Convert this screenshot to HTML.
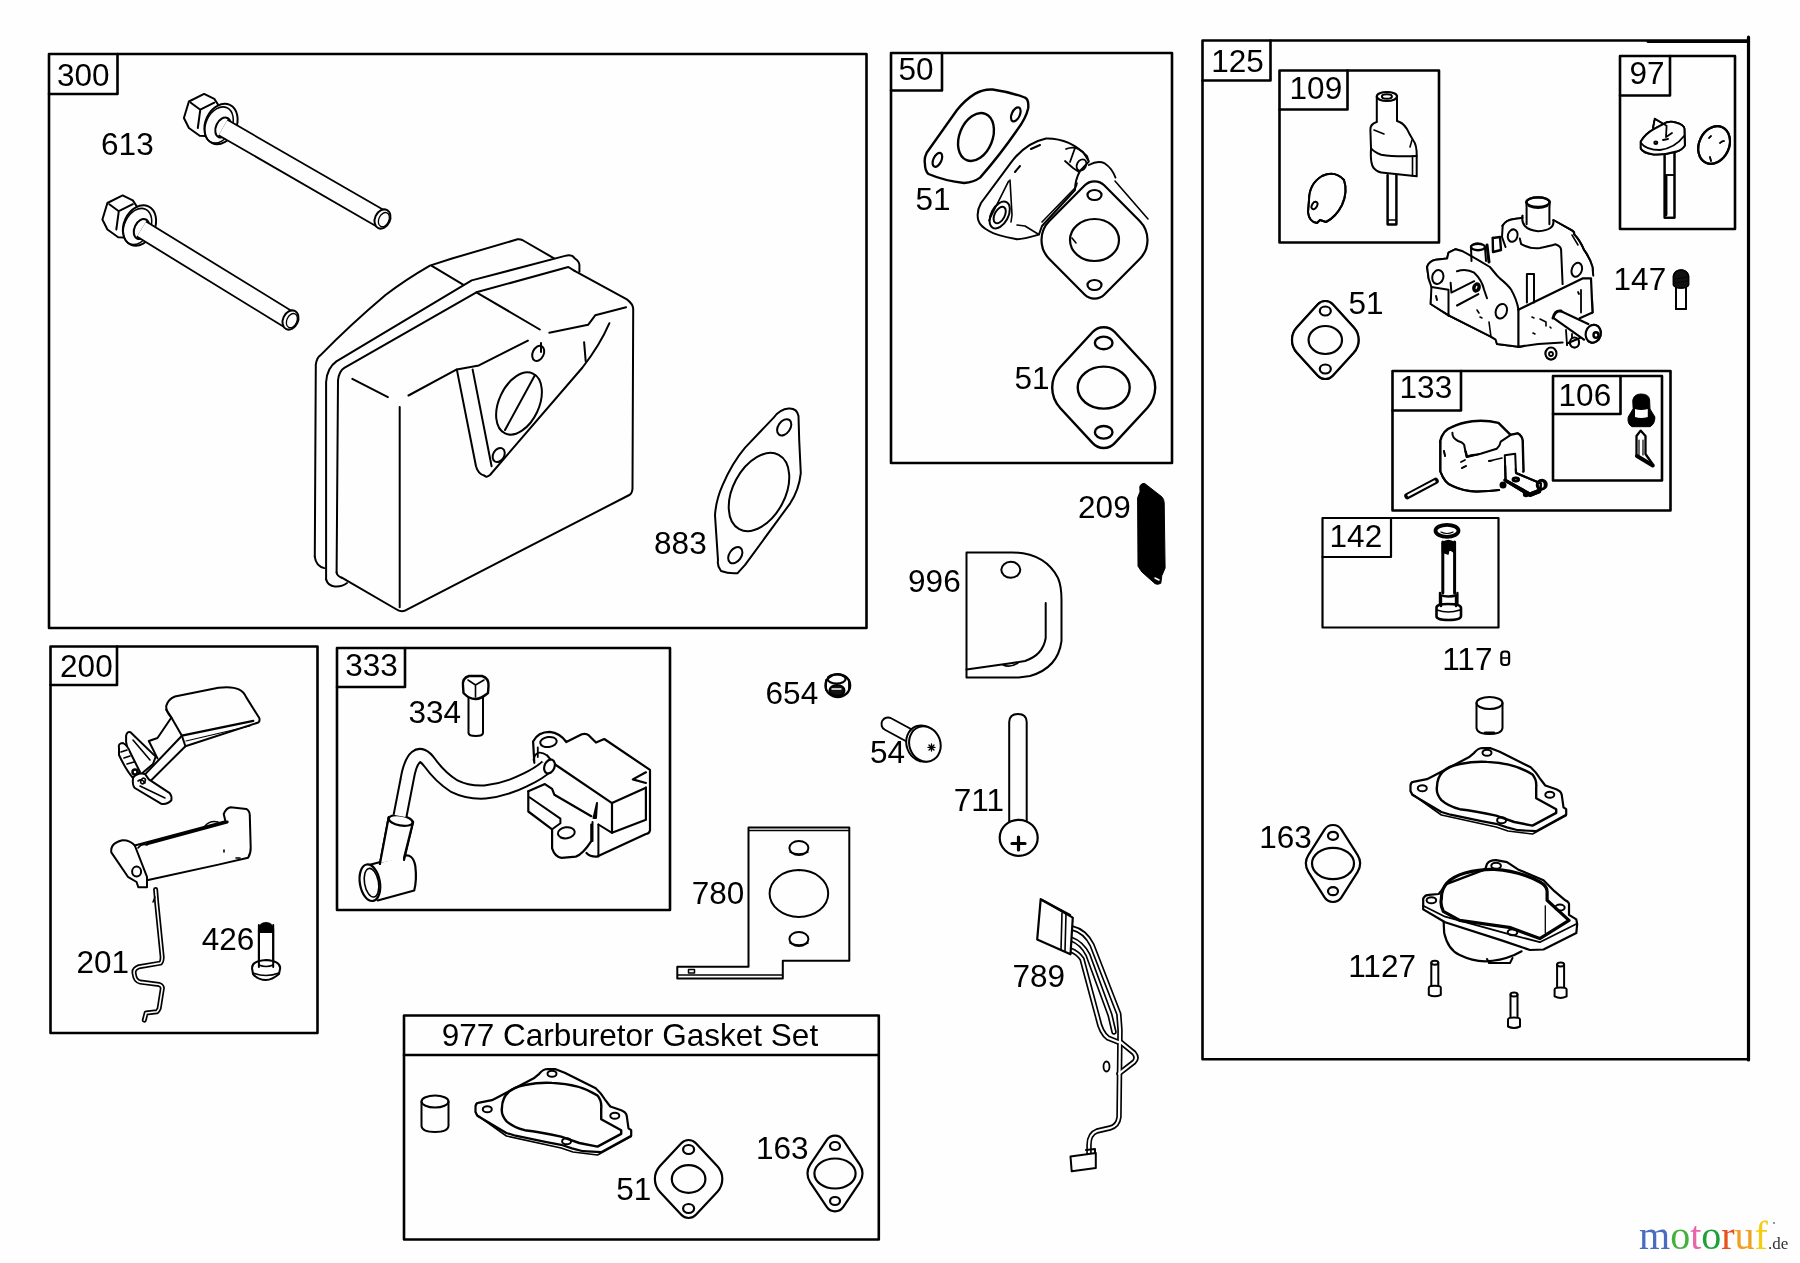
<!DOCTYPE html>
<html><head><meta charset="utf-8"><style>
html,body{margin:0;padding:0;background:#fdfefd;}
body{width:1800px;height:1263px;overflow:hidden;position:relative;}
svg{position:absolute;left:0;top:0;will-change:transform;}
text{font-family:"Liberation Sans",sans-serif;font-size:31.5px;fill:#000;}
.logo{font-family:"Liberation Serif",serif;}
</style></head><body>
<svg width="1800" height="1263" viewBox="0 0 1800 1263" stroke-linejoin="round" stroke-linecap="round">
<rect x="49" y="54" width="817.5" height="574" fill="none" stroke="#000" stroke-width="2.6"/>
<path d="M49 94H117.5V54" fill="none" stroke="#000" stroke-width="2.6"/>
<rect x="891" y="53" width="281" height="410" fill="none" stroke="#000" stroke-width="2.6"/>
<path d="M891 90.5H942V53" fill="none" stroke="#000" stroke-width="2.6"/>
<rect x="1202.5" y="40.5" width="546.0" height="1018.8" fill="none" stroke="#000" stroke-width="2.6"/>
<path d="M1202.5 80.5H1270.5V40.5" fill="none" stroke="#000" stroke-width="2.6"/>
<rect x="1279.5" y="70.5" width="159.5" height="172.0" fill="none" stroke="#000" stroke-width="2.6"/>
<path d="M1279.5 109.5H1347.5V70.5" fill="none" stroke="#000" stroke-width="2.6"/>
<rect x="1620" y="56" width="115" height="173" fill="none" stroke="#000" stroke-width="2.6"/>
<path d="M1620 95.5H1670V56" fill="none" stroke="#000" stroke-width="2.6"/>
<rect x="1392.5" y="371" width="278.0" height="139.5" fill="none" stroke="#000" stroke-width="2.6"/>
<path d="M1392.5 410.5H1461V371" fill="none" stroke="#000" stroke-width="2.6"/>
<rect x="1553" y="376" width="109" height="104.5" fill="none" stroke="#000" stroke-width="2.6"/>
<path d="M1553 414H1620.5V376" fill="none" stroke="#000" stroke-width="2.6"/>
<rect x="1322.5" y="518" width="176.0" height="109.5" fill="none" stroke="#000" stroke-width="2.2"/>
<path d="M1322.5 557H1391V518" fill="none" stroke="#000" stroke-width="2.2"/>
<rect x="50.5" y="646.5" width="267.0" height="386.5" fill="none" stroke="#000" stroke-width="2.6"/>
<path d="M50.5 685H117V646.5" fill="none" stroke="#000" stroke-width="2.6"/>
<rect x="337" y="648" width="333" height="262" fill="none" stroke="#000" stroke-width="2.6"/>
<path d="M337 687H405V648" fill="none" stroke="#000" stroke-width="2.6"/>
<path d="M1648 41.5H1748.5" stroke="#000" stroke-width="3"/>
<path d="M1748.5 37V1060" stroke="#000" stroke-width="3.2"/>
<rect x="404" y="1015.5" width="474.8" height="224" fill="none" stroke="#000" stroke-width="2.6"/>
<path d="M404 1055H878.8" stroke="#000" stroke-width="2.6"/>
<text x="56.9" y="85.5">300</text>
<text x="101.1" y="155.0">613</text>
<text x="654.1" y="553.6">883</text>
<text x="898.4" y="80.0">50</text>
<text x="915.4" y="210.0">51</text>
<text x="1014.4" y="389.0">51</text>
<text x="1211.2" y="71.7">125</text>
<text x="1289.6" y="99.2">109</text>
<text x="1629.4" y="84.4">97</text>
<text x="1613.6" y="290.0">147</text>
<text x="1348.4" y="313.6">51</text>
<text x="1399.6" y="397.8">133</text>
<text x="1558.6" y="405.6">106</text>
<text x="1329.6" y="546.7">142</text>
<text x="1442.2" y="670.0">117</text>
<text x="1259.3" y="847.8">163</text>
<text x="1348.2" y="976.7">1127</text>
<text x="1078.1" y="517.5">209</text>
<text x="908.1" y="592.0">996</text>
<text x="765.6" y="704.4">654</text>
<text x="869.9" y="763.0">54</text>
<text x="953.7" y="810.5">711</text>
<text x="691.7" y="903.7">780</text>
<text x="1012.5" y="987.2">789</text>
<text x="60.1" y="677.0">200</text>
<text x="76.4" y="972.5">201</text>
<text x="201.8" y="949.8">426</text>
<text x="345.2" y="675.5">333</text>
<text x="408.4" y="723.1">334</text>
<text x="616.2" y="1200.3">51</text>
<text x="756.0" y="1159.0">163</text>
<text x="441.7" y="1046.3">977 Carburetor Gasket Set</text>
<g class="logo" style="font-family:'Liberation Serif',serif">
<text x="1639" y="1249" style="font-family:'Liberation Serif',serif;font-size:40px"><tspan fill="#4a6cc0">m</tspan><tspan fill="#45b03c">o</tspan><tspan fill="#e866a8">t</tspan><tspan fill="#1f9f3c">o</tspan><tspan fill="#e8501c">r</tspan><tspan fill="#f0a020">u</tspan><tspan fill="#f5cc10">f</tspan></text>
<text x="1768" y="1249" style="font-family:'Liberation Serif',serif;font-size:17px;fill:#333">.de</text>
<circle cx="1774" cy="1223" r="0.9" fill="#666"/>
</g>
<path d="M188.9 101.5 L204.1 93.9 L214.3 98.9 L219.0 106.0 L215.0 125.0 L205.0 136.0 L199.7 135.7 L188.9 128.0 L183.9 118.0Z" fill="#fdfefd" stroke="#000" stroke-width="2"/>
<path d="M190.8 102.7L200.3 109.7L214.3 102.7M200.3 109.7L197.8 128.0" fill="none" stroke="#000" stroke-width="2"/>
<ellipse cx="221.0" cy="124.0" rx="15.5" ry="21" transform="rotate(25 221.0 124.0)" fill="#fdfefd" stroke="#000" stroke-width="2"/>
<ellipse cx="219.0" cy="125.0" rx="13" ry="19" transform="rotate(25 219.0 125.0)" fill="none" stroke="#000" stroke-width="1.5"/>
<ellipse cx="223.0" cy="127.5" rx="7" ry="10.5" transform="rotate(25 223.0 127.5)" fill="#fdfefd" stroke="#000" stroke-width="2"/>
<path d="M223 127.5L381.5 219" stroke="#000" stroke-width="19.5" stroke-linecap="butt"/>
<path d="M223 127.5L381.5 219" stroke="#fdfefd" stroke-width="15.9" stroke-linecap="butt"/>
<ellipse cx="382.5" cy="219" rx="7.5" ry="10" transform="rotate(25 382.5 219)" fill="#fdfefd" stroke="#000" stroke-width="2"/>
<ellipse cx="384.0" cy="219" rx="5.0" ry="7.5" transform="rotate(25 382.5 219)" fill="none" stroke="#000" stroke-width="1.3"/>
<path d="M107.4 203.0 L122.6 195.4 L132.8 200.4 L137.5 207.5 L133.5 226.5 L123.5 237.5 L118.2 237.2 L107.4 229.5 L102.4 219.5Z" fill="#fdfefd" stroke="#000" stroke-width="2"/>
<path d="M109.3 204.2L118.8 211.2L132.8 204.2M118.8 211.2L116.3 229.5" fill="none" stroke="#000" stroke-width="2"/>
<ellipse cx="139.5" cy="225.5" rx="15.5" ry="21" transform="rotate(25 139.5 225.5)" fill="#fdfefd" stroke="#000" stroke-width="2"/>
<ellipse cx="137.5" cy="226.5" rx="13" ry="19" transform="rotate(25 137.5 226.5)" fill="none" stroke="#000" stroke-width="1.5"/>
<ellipse cx="141.5" cy="229.0" rx="7" ry="10.5" transform="rotate(25 141.5 229.0)" fill="#fdfefd" stroke="#000" stroke-width="2"/>
<path d="M141.5 229L289.5 320" stroke="#000" stroke-width="19.5" stroke-linecap="butt"/>
<path d="M141.5 229L289.5 320" stroke="#fdfefd" stroke-width="15.9" stroke-linecap="butt"/>
<ellipse cx="290.5" cy="320" rx="7.5" ry="10" transform="rotate(25 290.5 320)" fill="#fdfefd" stroke="#000" stroke-width="2"/>
<ellipse cx="292.0" cy="320" rx="5.0" ry="7.5" transform="rotate(25 290.5 320)" fill="none" stroke="#000" stroke-width="1.3"/>
<path d="M315 430L315.8 364.6Q317 357 320.6 355.1L385.5 295L429.9 265.6L452 258.5L517.6 239.3Q520 239 522.3 240L554 258.3L574.6 258.3L579.4 271.7L626.9 299.4Q633 304 633.2 308.9L632.5 488.7Q632 494 629.3 495L404.5 610.8Q400 612 395.8 609L347 583L334.8 586.4Q326 584 326.1 579.4L324.4 568.1Q315 562 314.8 556.8Z" fill="#fdfefd" stroke="none"/>
<path d="M314.8 556.8L315.8 364.6Q317 357 320.6 355.1Q350 325 385.5 295Q405 280 429.9 265.6L452 258.5L517.6 239.3Q520 239 522.3 240L554 258.3" fill="none" stroke="#000" stroke-width="2"/>
<path d="M314.8 556.8Q316 566 324.4 568.1" fill="none" stroke="#000" stroke-width="2"/>
<path d="M431.4 265.6L463.1 284.6" fill="none" stroke="#000" stroke-width="2"/>
<path d="M326.1 579.4L326.1 382Q327 368 336.4 361.4L471.7 280.4L565.1 255.9Q572 254 574.6 258.3Q580 262 579.4 266.2L579.4 271.7" fill="none" stroke="#000" stroke-width="2"/>
<path d="M326.1 579.4Q328 586 334.8 586.4Q342 587 347 583" fill="none" stroke="#000" stroke-width="2"/>
<path d="M336.6 572.5L338 380.4Q339 371 344.3 367.8L476.4 292.3L568.3 267L574.6 270.9" fill="none" stroke="#000" stroke-width="2"/>
<path d="M336.6 572.5Q337 576 341.8 577.7" fill="none" stroke="#000" stroke-width="2"/>
<path d="M574.6 270.9L626.9 299.4Q633 304 633.2 308.9L632.5 488.7Q632 494 629.3 495L404.5 610.8Q400 612 395.8 609L341.8 577.7" fill="none" stroke="#000" stroke-width="2"/>
<path d="M476.4 292.3L539.8 329.5" fill="none" stroke="#000" stroke-width="2"/>
<path d="M549.3 332.7L588.1 324.8L595.2 315.3L626.1 307.3" fill="none" stroke="#000" stroke-width="2"/>
<path d="M609.4 323.2Q600 345 582.5 367.5L490 475Q486 478 484.7 475.8" fill="none" stroke="#000" stroke-width="2"/>
<path d="M584.1 342.2L585.7 361.2" fill="none" stroke="#000" stroke-width="2"/>
<path d="M352.3 378.9L387.9 397.1" fill="none" stroke="#000" stroke-width="2"/>
<path d="M399.7 407L399.7 607.3" fill="none" stroke="#000" stroke-width="2"/>
<path d="M408.5 395.5L456.8 369.4L478.9 365.4L527.9 340.6" fill="none" stroke="#000" stroke-width="2"/>
<path d="M456.8 369.4L476 466.2Q478 474 484.7 475.8" fill="none" stroke="#000" stroke-width="2"/>
<path d="M472.6 369.4L491.6 466.2" fill="none" stroke="#000" stroke-width="2"/>
<ellipse cx="519" cy="403.5" rx="20" ry="33" transform="rotate(25 519 403.5)" fill="none" stroke="#000" stroke-width="2"/>
<path d="M505 430L535 375" fill="none" stroke="#000" stroke-width="2"/>
<ellipse cx="538.2" cy="353.3" rx="5.5" ry="8" transform="rotate(25 538.2 353.3)" fill="none" stroke="#000" stroke-width="2"/>
<path d="M541 343L541 352" fill="none" stroke="#000" stroke-width="2"/>
<ellipse cx="498.7" cy="455" rx="5.5" ry="7.5" transform="rotate(30 498.7 455)" fill="none" stroke="#000" stroke-width="2"/>
<path d="M773.7 417.6Q780 409 788.7 408.5Q797 408 798.5 416L799.2 440L800.8 473.2Q799 490 790.2 503.3L745.1 564.9L737.6 573.2Q729 574 721 571Q717 566 718 560.4L715 515.3Q716 500 722.6 485.2Q732 463 745.1 447.6Z" fill="none" stroke="#000" stroke-width="2" stroke-width="2.3"/>
<ellipse cx="759" cy="492" rx="26" ry="42" transform="rotate(28 759 492)" fill="none" stroke="#000" stroke-width="2" stroke-width="2.3"/>
<ellipse cx="784.2" cy="427.3" rx="6" ry="9" transform="rotate(35 784.2 427.3)" fill="none" stroke="#000" stroke-width="2"/>
<ellipse cx="735.3" cy="555.2" rx="6" ry="9" transform="rotate(35 735.3 555.2)" fill="none" stroke="#000" stroke-width="2"/><path d="M924.9 163.4Q925 171 928.5 174Q945 181 964.1 183Q974 182 980.1 177.6Q1000 155 1017.5 129.5Q1026 118 1028.2 108.2Q1029 99 1024.7 97.5Q1010 92 992.6 89.5Q983 89 974.8 93.9Q965 100 957 110L926.7 152.7Q924 158 924.9 163.4Z" fill="#fdfefd" stroke="#000" stroke-width="2.4"/>
<ellipse cx="976" cy="137" rx="16.5" ry="25" transform="rotate(22 976 137)" fill="none" stroke="#000" stroke-width="2.4"/>
<ellipse cx="1015.8" cy="114.4" rx="4" ry="7.5" transform="rotate(25 1015.8 114.4)" fill="none" stroke="#000" stroke-width="2.2"/>
<ellipse cx="937.4" cy="159.8" rx="4" ry="7.5" transform="rotate(25 937.4 159.8)" fill="none" stroke="#000" stroke-width="2.2"/>
<path d="M978.4 220.4Q976 212 981 203L1010.4 163.4Q1025 143 1046 138.4Q1070 138 1087 156.2L1088.8 161.6L1080 171Q1075 180 1075 190L1042 226L1038.9 234.6Q1020 240 1015.8 239Q995 235 989 231Q980 226 978.4 220.4Z" fill="#fdfefd" stroke="#000" stroke-width="2"/>
<path d="M1031 149L1040 145M1015 172L1020 166" fill="none" stroke="#000" stroke-width="2"/>
<ellipse cx="999.7" cy="215" rx="8.5" ry="14.5" transform="rotate(28 999.7 215)" fill="none" stroke="#000" stroke-width="2"/>
<ellipse cx="999.7" cy="215" rx="5" ry="9" transform="rotate(28 999.7 215)" fill="none" stroke="#000" stroke-width="2"/>
<path d="M1008.6 181.2L989 220.4M1010 180L1012 215L1011 222" fill="none" stroke="#000" stroke-width="1.6"/>
<path d="M1017 225L1025 226L1038 234" fill="none" stroke="#000" stroke-width="1.6"/>
<path d="M1066 149Q1075 145 1083 152L1088 160M1065 161L1073 168L1079 172M1075 148L1070 162" fill="none" stroke="#000" stroke-width="1.8"/>
<ellipse cx="1081.5" cy="165" rx="4.5" ry="6" transform="rotate(30 1081.5 165)" fill="none" stroke="#000" stroke-width="1.8"/>
<path d="M1088.8 165Q1098 160 1104.8 163.4Q1112 168 1115.5 177.6" fill="none" stroke="#000" stroke-width="1.8"/>
<path d="M1104.44 185.44L1139.68 220.99A27 27 0 0 1 1139.68 259.01L1104.44 294.56A14 14 0 0 1 1084.56 294.56L1049.32 259.01A27 27 0 0 1 1049.32 220.99L1084.56 185.44A14 14 0 0 1 1104.44 185.44Z" fill="#fdfefd" stroke="#000" stroke-width="2.2"/>
<ellipse cx="1094.5" cy="240" rx="24.5" ry="21" fill="none" stroke="#000" stroke-width="2.2"/>
<ellipse cx="1094.5" cy="195" rx="7" ry="5" fill="none" stroke="#000" stroke-width="2.2"/>
<ellipse cx="1094.5" cy="285" rx="7" ry="5" fill="none" stroke="#000" stroke-width="2.2"/>
<path d="M1077 183Q1076 188 1074 189L1042 222M1115 181L1148 219" fill="none" stroke="#000" stroke-width="1.6"/>
<path d="M1072 238L1076 243" fill="none" stroke="#000" stroke-width="1.6"/>
<path d="M1114.72 332.02L1147.24 367.25A30 30 0 0 1 1147.24 407.95L1114.72 443.18A15 15 0 0 1 1092.68 443.18L1060.16 407.95A30 30 0 0 1 1060.16 367.25L1092.68 332.02A15 15 0 0 1 1114.72 332.02Z" fill="#fdfefd" stroke="#000" stroke-width="2.4"/>
<ellipse cx="1103.7" cy="387.6" rx="26" ry="21" fill="none" stroke="#000" stroke-width="2.4"/>
<ellipse cx="1103.7" cy="342.90000000000003" rx="8.8" ry="6.3" fill="none" stroke="#000" stroke-width="2.4"/>
<ellipse cx="1103.7" cy="432.3" rx="8.8" ry="6.3" fill="none" stroke="#000" stroke-width="2.4"/><path d="M1376.8 96.5L1376.8 124.3M1397 96.5L1397 123" fill="none" stroke="#000" stroke-width="2"/>
<ellipse cx="1386.9" cy="96.5" rx="10.1" ry="4.5" fill="#fdfefd" stroke="#000" stroke-width="2.2"/>
<ellipse cx="1386.9" cy="96.5" rx="5" ry="2.3" fill="none" stroke="#000" stroke-width="2"/>
<path d="M1376.8 122Q1370 124 1370.4 130L1371 148.4Q1370 165 1374.3 168.7Q1377 172 1381.2 172.5L1416.7 176.3L1416.7 156Q1417 145 1413 140L1409.1 133.2Q1405 124 1399 121.8L1397 121" fill="#fdfefd" stroke="#000" stroke-width="2"/>
<path d="M1371.1 148.4Q1374 152 1381.2 154.8Q1395 157 1416.7 156" fill="none" stroke="#000" stroke-width="2"/>
<path d="M1374 130L1384 134M1412 140L1410 147M1412.5 156L1412.5 176" fill="none" stroke="#000" stroke-width="1.6"/>
<path d="M1387.6 175L1387.6 224.4L1396.4 224.4L1396.4 175" fill="none" stroke="#000" stroke-width="2"/>
<path d="M1388 220L1396 220" fill="none" stroke="#000" stroke-width="1.2"/>
<path d="M1309 200Q1309 184 1322 176Q1335 170 1344 180Q1348 192 1342 205Q1336 217 1326 222L1320 220L1317 223Q1309 222 1308 212Z" fill="none" stroke="#000" stroke-width="2"/>
<ellipse cx="1314.5" cy="205.5" rx="2.5" ry="4" transform="rotate(30 1314.5 205.5)" fill="none" stroke="#000" stroke-width="1.6"/>
<path d="M1664.6 151.5L1664.6 217.8L1674.5 217.8L1674.5 151.5" fill="none" stroke="#000" stroke-width="2"/>
<path d="M1665.5 175L1674 175" fill="none" stroke="#000" stroke-width="1.5"/>
<path d="M1666 176L1666 215" fill="none" stroke="#000" stroke-width="2.5"/>
<path d="M1640.8 141.6Q1645 134 1654.7 128.7L1666.6 122.3Q1672 121 1676.5 122.8Q1684 125 1684.4 128.7L1684.9 145.5Q1682 150 1676.5 151.5Q1665 155 1653.7 154.5Q1643 153 1640.8 148.5Z" fill="#fdfefd" stroke="#000" stroke-width="2"/>
<path d="M1641 143Q1646 150 1660 150Q1675 148 1684 136" fill="none" stroke="#000" stroke-width="1.8"/>
<path d="M1654.7 118.8L1653 128M1654.7 118.8L1666.6 125.7L1666 137L1672 133M1663 140L1668 139" fill="none" stroke="#000" stroke-width="1.8"/>
<ellipse cx="1655.8" cy="142.8" rx="1.5" ry="1.2" fill="none" stroke="#000" stroke-width="2"/>
<ellipse cx="1714.1" cy="145" rx="15" ry="19.5" transform="rotate(25 1714.1 145)" fill="none" stroke="#000" stroke-width="2.2"/>
<path d="M1709 138L1711 136M1720 143Q1722 141 1724 141M1710 157L1711 161" fill="none" stroke="#000" stroke-width="1.6"/>
<path d="M1427.1 267Q1430 260 1435.7 259.8L1447.1 258.4L1448.5 252.7L1455.6 249.2L1470 250L1477 243L1492 238L1502.7 225.6Q1510 218 1522.6 217.1L1526.2 202L1549.7 202L1553.3 220.6L1574 234.2L1592.5 267L1593.2 275.5L1592.5 312.6L1588 324L1601 333L1593 342L1578 340L1565 343L1556 358L1546 350L1518.4 346.8L1497 344L1491.3 336.8L1430.7 304Z" fill="#fdfefd" stroke="none"/>
<path d="M1526.6 202.1L1526.6 224.2M1549.4 202.1L1549.4 224.2" fill="none" stroke="#000" stroke-width="2"/>
<ellipse cx="1538" cy="202.1" rx="11.6" ry="4.8" fill="none" stroke="#000" stroke-width="2.2"/>
<path d="M1529 206Q1538 210 1547 206" fill="none" stroke="#000" stroke-width="2.2"/>
<path d="M1522.6 215.7Q1520 229 1538 231.3Q1555 230 1553.3 220.6" fill="none" stroke="#000" stroke-width="2"/>
<path d="M1502.7 225.6Q1506 220 1512.7 219.2L1522.6 217.8M1553.3 220L1571.1 229.9Q1575 232 1574 234.2Q1580 240 1584 249.9Q1590 258 1592.5 267L1593.2 275.5" fill="none" stroke="#000" stroke-width="2"/>
<path d="M1502.7 225.6L1502 237L1505.5 247" fill="none" stroke="#000" stroke-width="2"/>
<ellipse cx="1512.7" cy="235.6" rx="4.8" ry="6.3" transform="rotate(15 1512.7 235.6)" fill="none" stroke="#000" stroke-width="2"/>
<path d="M1519.8 238.5L1521.2 244.2Q1530 249 1540 248Q1550 246 1555.4 244.2Q1561 246 1561.1 249.9L1562.6 284.1" fill="none" stroke="#000" stroke-width="2"/>
<path d="M1526.9 302.6L1526.9 274.1L1534 274.1L1534 302.6" fill="none" stroke="#000" stroke-width="2"/>
<ellipse cx="1576.8" cy="269.8" rx="5" ry="7.2" transform="rotate(20 1576.8 269.8)" fill="none" stroke="#000" stroke-width="2"/>
<path d="M1572 235L1578 245" fill="none" stroke="#000" stroke-width="1.5"/>
<ellipse cx="1478" cy="247" rx="7" ry="3.2" fill="#fdfefd" stroke="#000" stroke-width="2.4"/>
<path d="M1471 247L1471.5 261M1485 247L1486 261" fill="none" stroke="#000" stroke-width="2"/>
<path d="M1492.7 238L1500 237L1501 250L1493 252Z" fill="none" stroke="#000" stroke-width="2.4"/>
<path d="M1487 245L1489 262" stroke="#000" stroke-width="3"/>
<path d="M1518.4 309.7L1582.5 278.4L1591 278.4L1592.5 312.6L1579.7 318.3" fill="none" stroke="#000" stroke-width="2.2"/>
<path d="M1518.4 309.7L1518.4 346.8L1538.3 344L1562.6 342.5" fill="none" stroke="#000" stroke-width="2.2"/>
<path d="M1581 289.8L1581 312.6M1578 292L1579 294" fill="none" stroke="#000" stroke-width="1.8"/>
<path d="M1532 317L1534 318M1540 319L1546 322L1546 326M1550 327L1551 328M1533 333L1535 334" fill="none" stroke="#000" stroke-width="1.6"/>
<path d="M1561.1 311.2L1588.2 324M1554 318.3L1584 339.7" fill="none" stroke="#000" stroke-width="2.2"/>
<path d="M1553 318Q1555 310 1561 311" fill="none" stroke="#000" stroke-width="3"/>
<ellipse cx="1593.2" cy="333.7" rx="7.5" ry="9" transform="rotate(15 1593.2 333.7)" fill="#fdfefd" stroke="#000" stroke-width="2.2"/>
<ellipse cx="1596" cy="335" rx="2.5" ry="2.8" fill="none" stroke="#000" stroke-width="2.4"/>
<path d="M1566 330L1567 345M1572 334L1572 346" fill="none" stroke="#000" stroke-width="1.8"/>
<path d="M1427.1 267Q1429 261 1435.7 259.8L1447.1 258.4L1448.5 252.7L1455.6 249.2L1462.8 251.3Q1475 258 1489.9 267L1497 275.5L1499.8 278.4Q1508 285 1511.2 289.8Q1517 300 1518.4 309.7" fill="none" stroke="#000" stroke-width="2"/>
<path d="M1427.1 267L1428.6 278.4L1431.4 287L1430.7 304L1448.5 315.4L1491.3 336.8L1495.6 339.7L1497 344L1518.4 346.8" fill="none" stroke="#000" stroke-width="2"/>
<path d="M1431.4 287L1448.5 289.8L1448.5 315.4" fill="none" stroke="#000" stroke-width="2"/>
<path d="M1436 296L1437 300" fill="none" stroke="#000" stroke-width="2"/>
<ellipse cx="1437.8" cy="277" rx="5.5" ry="7" transform="rotate(15 1437.8 277)" fill="none" stroke="#000" stroke-width="2"/>
<ellipse cx="1501.3" cy="311.2" rx="5.5" ry="7.5" transform="rotate(20 1501.3 311.2)" fill="none" stroke="#000" stroke-width="2"/>
<path d="M1457 271.3Q1466 268 1474.2 272.7Q1482 280 1484.1 289.8L1487 298.3" fill="none" stroke="#000" stroke-width="2"/>
<path d="M1450.6 282.7L1451.4 292.6L1474.2 281.2M1457 305.5L1478.4 294.1" fill="none" stroke="#000" stroke-width="2"/>
<ellipse cx="1476.5" cy="287.5" rx="2.5" ry="3.5" transform="rotate(20 1476.5 287.5)" fill="none" stroke="#000" stroke-width="3.5"/>
<path d="M1477 310L1479 313M1480 317L1482 318" fill="none" stroke="#000" stroke-width="1.6"/>
<path d="M1489 322L1491 337" fill="none" stroke="#000" stroke-width="1.6"/>
<ellipse cx="1551" cy="353.5" rx="5.5" ry="6" fill="#fdfefd" stroke="#000" stroke-width="2"/>
<ellipse cx="1551" cy="354" rx="2" ry="2" fill="none" stroke="#000" stroke-width="1.8"/>
<ellipse cx="1574.5" cy="342.5" rx="4.5" ry="5" fill="#fdfefd" stroke="#000" stroke-width="2"/>
<path d="M1568 343L1580 338" fill="none" stroke="#000" stroke-width="2"/>
<path d="M1676 278L1676 309L1686 309L1686 278" fill="none" stroke="#000" stroke-width="2"/>
<path d="M1673.5 276Q1675 270 1681 270Q1687 270 1688.5 276L1688.5 285Q1687 288 1681 288Q1675 288 1673.5 285Z" fill="#111" stroke="#000" stroke-width="1.5"/>
<path d="M1675 279L1687 277M1675 283L1687 281" fill="none" stroke="#000" stroke-width="0.8"/>
<path d="M1332.68 304.26L1353.63 327.19A19 19 0 0 1 1353.63 352.81L1332.68 375.74A10 10 0 0 1 1317.92 375.74L1296.97 352.81A19 19 0 0 1 1296.97 327.19L1317.92 304.26A10 10 0 0 1 1332.68 304.26Z" fill="#fdfefd" stroke="#000" stroke-width="2.2"/>
<ellipse cx="1325.3" cy="340" rx="16.7" ry="14" fill="none" stroke="#000" stroke-width="2.2"/>
<ellipse cx="1325.3" cy="311" rx="5.5" ry="4.5" fill="none" stroke="#000" stroke-width="2.2"/>
<ellipse cx="1325.3" cy="369" rx="5.5" ry="4.5" fill="none" stroke="#000" stroke-width="2.2"/>
<path d="M1440.3 441.6Q1443 430 1452.4 427.1Q1460 423 1472.5 421.4Q1486 420 1498.3 423.1L1510.4 435.1L1517.6 433.5Q1522 436 1522.5 440.8L1523.3 471.4" fill="#fdfefd" stroke="#000" stroke-width="2.8"/>
<path d="M1440.3 441.6L1440.3 471.4Q1445 484 1452.4 485.9Q1463 491 1476.6 491.6Q1490 491 1499.1 490" fill="none" stroke="#000" stroke-width="2.2"/>
<path d="M1452.4 432.7Q1452 438 1458 441Q1465 443 1464.5 447L1466.9 456.9Q1472 455 1480.6 453.7L1496.7 448.8Q1500 446 1500.7 441.6L1510.4 435.1" fill="none" stroke="#000" stroke-width="2.4"/>
<path d="M1452 428Q1470 425 1482 429L1490 438L1500 442" fill="none" stroke="#000" stroke-width="1.6"/>
<path d="M1504.8 455.3L1505.6 481.1M1504.8 455.3L1515.2 453.7L1516 473L1541 483.5L1540 492L1530 496L1505.6 481.1" fill="none" stroke="#000" stroke-width="2.2"/>
<path d="M1444 451L1445 456M1489 461L1502 458M1462 468L1466 466M1461 462L1465 460" fill="none" stroke="#000" stroke-width="1.8"/>
<ellipse cx="1515.8" cy="479.5" rx="3" ry="1.8" fill="none" stroke="#000" stroke-width="2.5"/>
<path d="M1505 480L1530 494L1540 490" fill="none" stroke="#000" stroke-width="3"/>
<ellipse cx="1542" cy="484.5" rx="4.5" ry="4.5" fill="none" stroke="#000" stroke-width="2.5"/>
<circle cx="1503" cy="485" r="3.5" fill="#000"/>
<circle cx="1526" cy="494" r="3.2" fill="#000"/>
<path d="M1387.6 175L1387.6 224.4L1396.4 224.4L1396.4 175" fill="none" stroke="#000" stroke-width="2"/>
<path d="M1388 220L1396 220" fill="none" stroke="#000" stroke-width="1.2"/>
<path d="M1309 200Q1309 184 1322 176Q1335 170 1344 180Q1348 192 1342 205Q1336 217 1326 222L1320 220L1317 223Q1309 222 1308 212Z" fill="none" stroke="#000" stroke-width="2"/>
<ellipse cx="1314.5" cy="205.5" rx="2.5" ry="4" transform="rotate(30 1314.5 205.5)" fill="none" stroke="#000" stroke-width="1.6"/>
<path d="M1664.6 151.5L1664.6 217.8L1674.5 217.8L1674.5 151.5" fill="none" stroke="#000" stroke-width="2"/>
<path d="M1665.5 175L1674 175" fill="none" stroke="#000" stroke-width="1.5"/>
<path d="M1666 176L1666 215" fill="none" stroke="#000" stroke-width="2.5"/>
<path d="M1640.8 141.6Q1645 134 1654.7 128.7L1666.6 122.3Q1672 121 1676.5 122.8Q1684 125 1684.4 128.7L1684.9 145.5Q1682 150 1676.5 151.5Q1665 155 1653.7 154.5Q1643 153 1640.8 148.5Z" fill="#fdfefd" stroke="#000" stroke-width="2"/>
<path d="M1641 143Q1646 150 1660 150Q1675 148 1684 136" fill="none" stroke="#000" stroke-width="1.8"/>
<path d="M1654.7 118.8L1653 128M1654.7 118.8L1666.6 125.7L1666 137L1672 133M1663 140L1668 139" fill="none" stroke="#000" stroke-width="1.8"/>
<ellipse cx="1655.8" cy="142.8" rx="1.5" ry="1.2" fill="none" stroke="#000" stroke-width="2"/>
<ellipse cx="1714.1" cy="145" rx="15" ry="19.5" transform="rotate(25 1714.1 145)" fill="none" stroke="#000" stroke-width="2.2"/>
<path d="M1709 138L1711 136M1720 143Q1722 141 1724 141M1710 157L1711 161" fill="none" stroke="#000" stroke-width="1.6"/>
<path d="M1427.1 267Q1430 260 1435.7 259.8L1447.1 258.4L1448.5 252.7L1455.6 249.2L1470 250L1477 243L1492 238L1502.7 225.6Q1510 218 1522.6 217.1L1526.2 202L1549.7 202L1553.3 220.6L1574 234.2L1592.5 267L1593.2 275.5L1592.5 312.6L1588 324L1601 333L1593 342L1578 340L1565 343L1556 358L1546 350L1518.4 346.8L1497 344L1491.3 336.8L1430.7 304Z" fill="#fdfefd" stroke="none"/>
<path d="M1526.6 202.1L1526.6 224.2M1549.4 202.1L1549.4 224.2" fill="none" stroke="#000" stroke-width="2"/>
<ellipse cx="1538" cy="202.1" rx="11.6" ry="4.8" fill="none" stroke="#000" stroke-width="2.2"/>
<path d="M1529 206Q1538 210 1547 206" fill="none" stroke="#000" stroke-width="2.2"/>
<path d="M1522.6 215.7Q1520 229 1538 231.3Q1555 230 1553.3 220.6" fill="none" stroke="#000" stroke-width="2"/>
<path d="M1502.7 225.6Q1506 220 1512.7 219.2L1522.6 217.8M1553.3 220L1571.1 229.9Q1575 232 1574 234.2Q1580 240 1584 249.9Q1590 258 1592.5 267L1593.2 275.5" fill="none" stroke="#000" stroke-width="2"/>
<path d="M1502.7 225.6L1502 237L1505.5 247" fill="none" stroke="#000" stroke-width="2"/>
<ellipse cx="1512.7" cy="235.6" rx="4.8" ry="6.3" transform="rotate(15 1512.7 235.6)" fill="none" stroke="#000" stroke-width="2"/>
<path d="M1519.8 238.5L1521.2 244.2Q1530 249 1540 248Q1550 246 1555.4 244.2Q1561 246 1561.1 249.9L1562.6 284.1" fill="none" stroke="#000" stroke-width="2"/>
<path d="M1526.9 302.6L1526.9 274.1L1534 274.1L1534 302.6" fill="none" stroke="#000" stroke-width="2"/>
<ellipse cx="1576.8" cy="269.8" rx="5" ry="7.2" transform="rotate(20 1576.8 269.8)" fill="none" stroke="#000" stroke-width="2"/>
<path d="M1572 235L1578 245" fill="none" stroke="#000" stroke-width="1.5"/>
<ellipse cx="1478" cy="247" rx="7" ry="3.2" fill="#fdfefd" stroke="#000" stroke-width="2.4"/>
<path d="M1471 247L1471.5 261M1485 247L1486 261" fill="none" stroke="#000" stroke-width="2"/>
<path d="M1492.7 238L1500 237L1501 250L1493 252Z" fill="none" stroke="#000" stroke-width="2.4"/>
<path d="M1487 245L1489 262" stroke="#000" stroke-width="3"/>
<path d="M1518.4 309.7L1582.5 278.4L1591 278.4L1592.5 312.6L1579.7 318.3" fill="none" stroke="#000" stroke-width="2.2"/>
<path d="M1518.4 309.7L1518.4 346.8L1538.3 344L1562.6 342.5" fill="none" stroke="#000" stroke-width="2.2"/>
<path d="M1581 289.8L1581 312.6M1578 292L1579 294" fill="none" stroke="#000" stroke-width="1.8"/>
<path d="M1532 317L1534 318M1540 319L1546 322L1546 326M1550 327L1551 328M1533 333L1535 334" fill="none" stroke="#000" stroke-width="1.6"/>
<path d="M1561.1 311.2L1588.2 324M1554 318.3L1584 339.7" fill="none" stroke="#000" stroke-width="2.2"/>
<path d="M1553 318Q1555 310 1561 311" fill="none" stroke="#000" stroke-width="3"/>
<ellipse cx="1593.2" cy="333.7" rx="7.5" ry="9" transform="rotate(15 1593.2 333.7)" fill="#fdfefd" stroke="#000" stroke-width="2.2"/>
<ellipse cx="1596" cy="335" rx="2.5" ry="2.8" fill="none" stroke="#000" stroke-width="2.4"/>
<path d="M1566 330L1567 345M1572 334L1572 346" fill="none" stroke="#000" stroke-width="1.8"/>
<path d="M1427.1 267Q1429 261 1435.7 259.8L1447.1 258.4L1448.5 252.7L1455.6 249.2L1462.8 251.3Q1475 258 1489.9 267L1497 275.5L1499.8 278.4Q1508 285 1511.2 289.8Q1517 300 1518.4 309.7" fill="none" stroke="#000" stroke-width="2"/>
<path d="M1427.1 267L1428.6 278.4L1431.4 287L1430.7 304L1448.5 315.4L1491.3 336.8L1495.6 339.7L1497 344L1518.4 346.8" fill="none" stroke="#000" stroke-width="2"/>
<path d="M1431.4 287L1448.5 289.8L1448.5 315.4" fill="none" stroke="#000" stroke-width="2"/>
<path d="M1436 296L1437 300" fill="none" stroke="#000" stroke-width="2"/>
<ellipse cx="1437.8" cy="277" rx="5.5" ry="7" transform="rotate(15 1437.8 277)" fill="none" stroke="#000" stroke-width="2"/>
<ellipse cx="1501.3" cy="311.2" rx="5.5" ry="7.5" transform="rotate(20 1501.3 311.2)" fill="none" stroke="#000" stroke-width="2"/>
<path d="M1457 271.3Q1466 268 1474.2 272.7Q1482 280 1484.1 289.8L1487 298.3" fill="none" stroke="#000" stroke-width="2"/>
<path d="M1450.6 282.7L1451.4 292.6L1474.2 281.2M1457 305.5L1478.4 294.1" fill="none" stroke="#000" stroke-width="2"/>
<ellipse cx="1476.5" cy="287.5" rx="2.5" ry="3.5" transform="rotate(20 1476.5 287.5)" fill="none" stroke="#000" stroke-width="3.5"/>
<path d="M1477 310L1479 313M1480 317L1482 318" fill="none" stroke="#000" stroke-width="1.6"/>
<path d="M1489 322L1491 337" fill="none" stroke="#000" stroke-width="1.6"/>
<ellipse cx="1551" cy="353.5" rx="5.5" ry="6" fill="#fdfefd" stroke="#000" stroke-width="2"/>
<ellipse cx="1551" cy="354" rx="2" ry="2" fill="none" stroke="#000" stroke-width="1.8"/>
<ellipse cx="1574.5" cy="342.5" rx="4.5" ry="5" fill="#fdfefd" stroke="#000" stroke-width="2"/>
<path d="M1568 343L1580 338" fill="none" stroke="#000" stroke-width="2"/>
<path d="M1676 278L1676 309L1686 309L1686 278" fill="none" stroke="#000" stroke-width="2"/>
<path d="M1673.5 276Q1675 270 1681 270Q1687 270 1688.5 276L1688.5 285Q1687 288 1681 288Q1675 288 1673.5 285Z" fill="#111" stroke="#000" stroke-width="1.5"/>
<path d="M1675 279L1687 277M1675 283L1687 281" fill="none" stroke="#000" stroke-width="0.8"/>
<path d="M1332.68 304.26L1353.63 327.19A19 19 0 0 1 1353.63 352.81L1332.68 375.74A10 10 0 0 1 1317.92 375.74L1296.97 352.81A19 19 0 0 1 1296.97 327.19L1317.92 304.26A10 10 0 0 1 1332.68 304.26Z" fill="#fdfefd" stroke="#000" stroke-width="2.2"/>
<ellipse cx="1325.3" cy="340" rx="16.7" ry="14" fill="none" stroke="#000" stroke-width="2.2"/>
<ellipse cx="1325.3" cy="311" rx="5.5" ry="4.5" fill="none" stroke="#000" stroke-width="2.2"/>
<ellipse cx="1325.3" cy="369" rx="5.5" ry="4.5" fill="none" stroke="#000" stroke-width="2.2"/>
<path d="M1440.3 441.6Q1443 430 1452.4 427.1Q1460 423 1472.5 421.4Q1486 420 1498.3 423.1L1510.4 435.1L1517.6 433.5Q1522 436 1522.5 440.8L1523.3 471.4" fill="#fdfefd" stroke="#000" stroke-width="2"/>
<path d="M1440.3 441.6L1440.3 471.4Q1445 484 1452.4 485.9Q1463 491 1476.6 491.6Q1490 491 1499.1 490" fill="none" stroke="#000" stroke-width="2"/>
<path d="M1452.4 432.7Q1452 438 1458 441Q1465 443 1464.5 447L1466.9 456.9Q1472 455 1480.6 453.7L1496.7 448.8Q1500 446 1500.7 441.6L1510.4 435.1" fill="none" stroke="#000" stroke-width="2"/>
<path d="M1504.8 455.3L1505.6 481.1M1504.8 455.3L1515.2 453.7L1516 473L1541 483.5L1540 492L1530 496L1505.6 481.1" fill="none" stroke="#000" stroke-width="2"/>
<path d="M1444 451L1445 456M1489 461L1502 458M1462 468L1466 466" fill="none" stroke="#000" stroke-width="1.6"/>
<ellipse cx="1515.8" cy="479.5" rx="2.5" ry="1.5" fill="none" stroke="#000" stroke-width="2.5"/>
<path d="M1505 480L1530 494L1540 490" fill="none" stroke="#000" stroke-width="3"/>
<ellipse cx="1541" cy="485" rx="4" ry="4.5" fill="none" stroke="#000" stroke-width="2.5"/>
<path d="M1407.5 496L1435.5 481" stroke="#000" stroke-width="6.5" stroke-linecap="round"/>
<path d="M1408.5 495.3L1434.5 481.5" stroke="#fdfefd" stroke-width="2.3" stroke-linecap="round"/>
<path d="M1632.8 400Q1634 394 1641 394Q1649 394 1649.6 400L1650 409L1654.9 417Q1655 424 1650 426.7L1632 426.7Q1627 424 1628.2 417L1633 409Z" fill="#000" stroke="#000" stroke-width="1"/>
<path d="M1635 409Q1641 411 1647.8 409L1647.8 417Q1641 419 1635 417Z" fill="#fdfefd" stroke="none"/>
<path d="M1636.5 456L1636.5 436L1640.6 430.6L1645.5 436L1645.5 454L1652.5 464" fill="none" stroke="#000" stroke-width="2.3"/>
<path d="M1637 456L1652.8 465.5" stroke="#000" stroke-width="4" stroke-linecap="round"/>
<path d="M1639 440L1639 455M1643 440L1643 455" fill="none" stroke="#000" stroke-width="1.2"/>
<ellipse cx="1447" cy="530.8" rx="11.5" ry="6" fill="none" stroke="#000" stroke-width="3.8"/>
<path d="M1441 532Q1447 535 1453 532" fill="none" stroke="#000" stroke-width="1.2"/>
<path d="M1442.8 542L1442.8 593M1454.6 542L1454.6 593" fill="none" stroke="#000" stroke-width="3"/>
<path d="M1442.4 543Q1448 538 1455 543L1455 553L1449 549L1448 554L1442.4 552Z" fill="#000" stroke="#000" stroke-width="1.5"/>
<path d="M1440 593L1440 607.3M1457.4 593L1457.4 607.3M1440 595Q1448 598 1457.4 595" fill="none" stroke="#000" stroke-width="2.4"/>
<path d="M1436.5 608Q1436 604 1448 604Q1461 604 1461 608L1461 616Q1461 620 1448.6 620Q1436 620 1436.5 616Z" fill="#fdfefd" stroke="#000" stroke-width="2.6"/>
<path d="M1437 610Q1448 614 1460 610" fill="none" stroke="#000" stroke-width="1.6"/>
<path d="M1441 597L1441 606M1456 597L1456 606" fill="none" stroke="#000" stroke-width="2.4"/>
<rect x="1501.3" y="651.5" width="7.8" height="13.5" rx="3" fill="#fdfefd" stroke="#000" stroke-width="2.2"/>
<path d="M1502 658L1508.5 658" fill="none" stroke="#000" stroke-width="1.6"/>
<path d="M1476.5 703L1476.5 728Q1477 734 1489.5 734Q1502 734 1502.5 728L1502.5 703" fill="none" stroke="#000" stroke-width="2"/>
<ellipse cx="1489.5" cy="703" rx="13" ry="6" fill="none" stroke="#000" stroke-width="2"/>
<path d="M1485 733L1494 733" fill="none" stroke="#000" stroke-width="3"/>
<path d="M1410.5 785.5Q1411 782 1413.2 781.9L1426.9 779.2L1432.3 776.4L1468.8 757.3L1474.2 752.8Q1478 748 1483 748L1490.6 748.2L1499.7 751.8L1530.7 767.3Q1536 772 1539.8 778.3L1545.3 785.5L1556.2 789.2Q1561 791 1561.7 794.7L1563.5 807.4L1566.2 809.2L1566.2 814.7L1536.2 831.1L1518 830.2L1507 827.4L1496.1 823.8L1481.5 821.1L1450.5 814.7L1441.4 812L1412.3 794.7L1410.5 791Z" fill="#fdfefd" stroke="#000" stroke-width="2.2"/>
<path d="M1410.5 791L1412 794L1441.4 815L1496.1 827L1508 831L1532.5 834L1566.2 815.6" fill="none" stroke="#000" stroke-width="1.6"/>
<path d="M1436.9 787.4Q1437 768 1460 764Q1475 761 1487 761.9Q1515 763 1532.5 774.6Q1537 780 1536.2 787.4L1536.2 798.3L1556.2 809.2L1556.2 812.9L1532.5 825.6L1514.3 822L1496.1 815.6Q1475 811 1459.7 809.2Q1448 806 1441.4 800.1Q1436 794 1436.9 787.4Z" fill="none" stroke="#000" stroke-width="2.4"/>
<ellipse cx="1422.3" cy="788.3" rx="4.5" ry="3" fill="none" stroke="#000" stroke-width="2"/>
<ellipse cx="1487" cy="752.8" rx="4.5" ry="3" fill="none" stroke="#000" stroke-width="2"/>
<ellipse cx="1549.8" cy="794.7" rx="4.5" ry="3" fill="none" stroke="#000" stroke-width="2"/>
<ellipse cx="1501.6" cy="820.2" rx="4.5" ry="3" fill="none" stroke="#000" stroke-width="2"/>
<path d="M1341.44 829.64L1357.50 854.92A16 16 0 0 1 1357.50 872.08L1341.44 897.36A10 10 0 0 1 1324.56 897.36L1308.50 872.08A16 16 0 0 1 1308.50 854.92L1324.56 829.64A10 10 0 0 1 1341.44 829.64Z" fill="#fdfefd" stroke="#000" stroke-width="2.2"/>
<ellipse cx="1333" cy="863.5" rx="21" ry="15.7" fill="none" stroke="#000" stroke-width="2.2"/>
<ellipse cx="1333" cy="835.8" rx="5" ry="4" fill="none" stroke="#000" stroke-width="2.2"/>
<ellipse cx="1333" cy="891.2" rx="5" ry="4" fill="none" stroke="#000" stroke-width="2.2"/>
<path d="M1443.3 914.9L1444.2 933.1Q1448 950 1459.7 955Q1472 961 1485.2 961.3Q1500 961 1514.3 955L1521.6 951.3" fill="#fdfefd" stroke="#000" stroke-width="2.2"/>
<path d="M1487 959L1489 963L1510 963L1512.5 958" fill="none" stroke="#000" stroke-width="2"/>
<path d="M1423.2 898.5Q1425 895 1428.7 894.9L1438.7 894L1446.9 883.9L1485.2 869.4L1487 863.9Q1490 860 1496.1 860.2L1507 862.1L1518 869.4L1543.5 880.3L1554.4 891.2L1565.3 900.3Q1569 902 1569 904L1569 914.9L1576.3 919.4L1577.2 924L1576.3 933.1L1543.5 949.5L1530 950L1501.6 940.4L1445.1 922.2L1423.2 909.4Z" fill="#fdfefd" stroke="#000" stroke-width="2.2"/>
<path d="M1423.2 905.8L1445.1 916.7L1505.2 933.1L1539.8 942.2L1576.3 924" fill="none" stroke="#000" stroke-width="1.8"/>
<path d="M1441.4 898.5Q1441 880 1465 873Q1480 869 1494.3 869.4Q1520 871 1540 882Q1547 886 1547.1 891.2L1547.1 900.3L1569 920.4L1539.8 938.6L1510.7 927.7L1459.7 920.4L1443.3 911.3Q1440 905 1441.4 898.5Z" fill="none" stroke="#000" stroke-width="3.2"/>
<path d="M1545.3 905.8L1545.3 933.1" fill="none" stroke="#000" stroke-width="1.3"/>
<ellipse cx="1431.4" cy="900.3" rx="4.8" ry="3" fill="none" stroke="#000" stroke-width="2"/>
<ellipse cx="1496.1" cy="865.7" rx="4.8" ry="3" fill="none" stroke="#000" stroke-width="2"/>
<ellipse cx="1559.9" cy="907.6" rx="4.8" ry="3" fill="none" stroke="#000" stroke-width="2"/>
<ellipse cx="1512.5" cy="932.2" rx="4.8" ry="3" fill="none" stroke="#000" stroke-width="2"/>
<path d="M1431.3 962.8L1431.3 986.8M1438.3 962.8L1438.3 986.8" fill="none" stroke="#000" stroke-width="2"/>
<ellipse cx="1434.8" cy="962.8" rx="3.5" ry="2" fill="none" stroke="#000" stroke-width="2"/>
<path d="M1428.8 987.8Q1428.8 985.8 1434.8 985.8Q1440.8 985.8 1440.8 987.8L1440.8 994.8Q1434.8 997.8 1428.8 994.8Z" fill="#fdfefd" stroke="#000" stroke-width="2"/>
<path d="M1510.5 994.5L1510.5 1018.5M1517.5 994.5L1517.5 1018.5" fill="none" stroke="#000" stroke-width="2"/>
<ellipse cx="1514" cy="994.5" rx="3.5" ry="2" fill="none" stroke="#000" stroke-width="2"/>
<path d="M1508 1019.5Q1508 1017.5 1514 1017.5Q1520 1017.5 1520 1019.5L1520 1026.5Q1514 1029.5 1508 1026.5Z" fill="#fdfefd" stroke="#000" stroke-width="2"/>
<path d="M1557.1 964.4L1557.1 988.4M1564.1 964.4L1564.1 988.4" fill="none" stroke="#000" stroke-width="2"/>
<ellipse cx="1560.6" cy="964.4" rx="3.5" ry="2" fill="none" stroke="#000" stroke-width="2"/>
<path d="M1554.6 989.4Q1554.6 987.4 1560.6 987.4Q1566.6 987.4 1566.6 989.4L1566.6 996.4Q1560.6 999.4 1554.6 996.4Z" fill="#fdfefd" stroke="#000" stroke-width="2"/><path d="M166.2 706.1Q168 699 174.9 696.5L218.4 687.8Q232 686 239.3 689.6Q244 692 246.3 697.4L259.4 718.3Q260 722 257.6 722.7L185.4 746.2L181.9 735.7L171.4 717.5Q166 712 166.2 706.1Z" fill="#fdfefd" stroke="#000" stroke-width="2"/>
<path d="M181.9 735.7L253.3 720.9" fill="none" stroke="#000" stroke-width="2.2"/>
<path d="M186 741L250 726" fill="none" stroke="#000" stroke-width="1.2"/>
<path d="M166.2 709.6L171.4 717.5L157.5 738L148.8 741L157.5 758.4" fill="none" stroke="#000" stroke-width="2"/>
<path d="M181.9 735.7L145.3 774.1M185.4 746.2L150.5 781" fill="none" stroke="#000" stroke-width="2"/>
<path d="M126.1 735.7Q127 731 130.5 732.3L155.7 756.6L153 764L140 775Q130 765 126.1 742Z" fill="#fdfefd" stroke="#000" stroke-width="2"/>
<path d="M133 740L150 760" fill="none" stroke="#000" stroke-width="1.6"/>
<path d="M119 748Q118 743 123 743Q128 746 130 752L140 772L133 778Q126 770 119 755Z" fill="#fdfefd" stroke="#000" stroke-width="2"/>
<path d="M121 752L127 750M124 758L130 756M127 764L134 762" fill="none" stroke="#000" stroke-width="1.6"/>
<ellipse cx="135" cy="772" rx="2.5" ry="2.5" fill="none" stroke="#000" stroke-width="2.5"/>
<path d="M133.1 777.5Q132 785 134.8 788L161 803.7Q167 805 171.4 800.2Q172 796 169.7 793.2L148.8 779.3L145 774Q138 772 133.1 777.5Z" fill="#fdfefd" stroke="#000" stroke-width="2"/>
<path d="M140 786L165 798M138 781Q142 778 145 783" fill="none" stroke="#000" stroke-width="1.6"/>
<ellipse cx="143" cy="781" rx="2" ry="3" transform="rotate(30 143 781)" fill="none" stroke="#000" stroke-width="1.6"/>
<path d="M111.3 852.4Q110 843 122.6 840.2Q130 840 134.8 845.5L225.4 821.1L223.7 814.1Q226 808 230.6 807.2L246.3 808.9Q250 811 249.8 815.9L250.7 847.2Q251 853 248.1 857.7L218.4 864.6L147 880.3L147 887.3L138.3 887.3L136.6 882L127.9 876.8L111.3 852.4Z" fill="#fdfefd" stroke="#000" stroke-width="2"/>
<path d="M134.8 845.5L147 876.8L147 880.3" fill="none" stroke="#000" stroke-width="2"/>
<path d="M147 843.7L227.2 822" fill="none" stroke="#000" stroke-width="3"/>
<path d="M138 848Q142 843 147 845M205 826Q210 820 218 822" fill="none" stroke="#000" stroke-width="1.6"/>
<ellipse cx="136.6" cy="871.6" rx="4.5" ry="5" fill="none" stroke="#000" stroke-width="2"/>
<path d="M224 850L224 852M236 858L240 858" fill="none" stroke="#000" stroke-width="1.6"/>
<path d="M155.6 889.5L156.8 903.7L162.2 957.2Q162 962 160.4 963.1L139 966.7Q133 969 134.2 973.8Q135 981 140.2 982.1L159.2 984.5Q163 986 162.2 989.2L159.2 1008.2Q158 1011 156.8 1011.8L146.1 1013L144.3 1020.1" fill="none" stroke="#000" stroke-width="5" stroke-linejoin="round"/>
<path d="M155.6 889.5L156.8 903.7L162.2 957.2Q162 962 160.4 963.1L139 966.7Q133 969 134.2 973.8Q135 981 140.2 982.1L159.2 984.5Q163 986 162.2 989.2L159.2 1008.2Q158 1011 156.8 1011.8L146.1 1013L144.3 1020.1" fill="none" stroke="#fdfefd" stroke-width="1.6" stroke-linejoin="round"/>
<path d="M153 902L155 897" fill="none" stroke="#000" stroke-width="1.5"/>
<path d="M258.9 925L258.9 967.9M273.2 925L273.2 967.9" fill="none" stroke="#000" stroke-width="2"/>
<path d="M258.9 929Q259 922 266 922Q273 922 273.2 929L273.2 933L258.9 933Z" fill="#000"/>
<path d="M252 968Q252 961 266 960Q280 961 280.2 968L279 974Q272 980 266 980Q258 980 253 974Z" fill="#fdfefd" stroke="#000" stroke-width="2"/>
<path d="M258.9 929L258.9 967M273.2 929L273.2 967" fill="none" stroke="#000" stroke-width="2"/>
<path d="M253 973Q266 978 279 973" fill="none" stroke="#000" stroke-width="1.5"/>
<path d="M258.9 965Q266 968 273.2 965" fill="none" stroke="#000" stroke-width="1.5"/><path d="M468.5 695.4L468.5 733Q469 736 475.7 736Q482.5 736 483 733L483 695.4" fill="#fdfefd" stroke="#000" stroke-width="2"/>
<path d="M463 686Q462 678 469 676L482 676Q489 678 488.5 686L488 693Q481 699 475.5 699Q469 699 463.5 693Z" fill="#fdfefd" stroke="#000" stroke-width="2.4"/>
<path d="M468 680L475.5 685L484 680M475.5 685L475.5 697" fill="none" stroke="#000" stroke-width="1.6"/>
<path d="M369.9 864.7L403.2 856Q413 853 415.3 866Q417 880 414.2 890.5L377.7 900.5" fill="#fdfefd" stroke="#000" stroke-width="2.2"/>
<path d="M388.7 817.3L379.9 863.9M413.1 821.8L404 860" fill="none" stroke="#000" stroke-width="2.2"/>
<path d="M389 819L413 822L404 858L380 863Z" fill="#fdfefd" stroke="none"/>
<path d="M388.7 817.3L379.9 863.9M413.1 821.8L404 858" fill="none" stroke="#000" stroke-width="2.2"/>
<ellipse cx="400.7" cy="820.5" rx="12" ry="5" transform="rotate(10 400.7 820.5)" fill="#fdfefd" stroke="#000" stroke-width="2.2"/>
<ellipse cx="369.9" cy="882.7" rx="10" ry="18.5" transform="rotate(-10 369.9 882.7)" fill="#fdfefd" stroke="#000" stroke-width="2.2"/>
<ellipse cx="371.5" cy="882.7" rx="7" ry="14.5" transform="rotate(-10 371.5 882.7)" fill="none" stroke="#000" stroke-width="1.6"/>
<path d="M533.1 741.4Q538 732 549.7 731.9Q560 733 566.3 742L581.8 734.3L588.9 735.4L596 742.6L604.3 739L650 769.9L650 830.5L597.2 856.6L586.5 853Q580 857 575.8 856.6L561.6 857.8Q553 855 552.1 848.3L552.1 829.3L528.3 811.5L528.3 791.3L544.9 784.1L534.3 762.8Z" fill="#fdfefd" stroke="none"/>
<path d="M534.3 762.8L533.1 741.4Q538 732 549.7 731.9Q560 733 566.3 742L581.8 734.3Q586 733 588.9 735.4L596 742.6L604.3 739L650 769.9L650 830.5Q649 834 645.9 834L597.2 856.6Q590 857 586.5 853" fill="none" stroke="#000" stroke-width="2.2"/>
<ellipse cx="548.5" cy="742" rx="8.3" ry="5" transform="rotate(-8 548.5 742)" fill="none" stroke="#000" stroke-width="2"/>
<path d="M537.8 747.3L537.8 757M533.5 760Q536 748 547.3 755.6" fill="none" stroke="#000" stroke-width="1.8"/>
<path d="M547.3 755.6L554.4 764L612 803.1L645.9 787.7M645.9 772.3L632.8 779.4L645.9 783" fill="none" stroke="#000" stroke-width="2.2"/>
<path d="M612 803.1L612 832.8L645.9 819.8L645.9 787.7" fill="none" stroke="#000" stroke-width="2.2"/>
<path d="M528.3 791.3L528.3 811.5L552.1 829.3L552.1 848.3Q555 857 561.6 857.8L575.8 856.6Q583 854 591.3 841.1L591.3 824.5" fill="none" stroke="#000" stroke-width="2.2"/>
<path d="M528.3 791.3L544.9 784.1L552.1 788.9L554.4 794.8L591.3 816.2" fill="none" stroke="#000" stroke-width="2.2"/>
<path d="M529.5 797.2L560.4 818.6L560.4 823.3L552.1 829.3" fill="none" stroke="#000" stroke-width="2"/>
<ellipse cx="566.3" cy="832.8" rx="8.5" ry="5.5" transform="rotate(-8 566.3 832.8)" fill="none" stroke="#000" stroke-width="2"/>
<path d="M598.4 824.5L598.4 856.6M592.5 822L592.5 841" fill="none" stroke="#000" stroke-width="2"/>
<path d="M598.4 824.5L612 832.8" fill="none" stroke="#000" stroke-width="2"/>
<path d="M593.5 818L597 803L596 818Z" fill="#000" stroke="#000" stroke-width="2"/>
<path d="M547 766Q540 773 525 780Q505 790 485 792Q468 793 454 786Q440 777 430 763Q422 752 416 757Q410 762 407 780L400 816" fill="none" stroke="#000" stroke-width="15" stroke-linecap="butt"/>
<path d="M547 766Q540 773 525 780Q505 790 485 792Q468 793 454 786Q440 777 430 763Q422 752 416 757Q410 762 407 780L400 816" fill="none" stroke="#fdfefd" stroke-width="11" stroke-linecap="butt"/>
<ellipse cx="549.5" cy="766.5" rx="5" ry="7.2" transform="rotate(22 549.5 766.5)" fill="#fdfefd" stroke="#000" stroke-width="2.2"/><path d="M1139.9 486.4Q1141 483 1144.7 483.5L1161.8 496.8Q1164 499 1164.2 502.5L1165.1 568.1L1161.8 575.7L1160.8 583.3Q1158 585 1155.1 583.7L1141.8 571.9L1138 566.2L1137.6 497.8L1139.9 492.1Z" fill="#000" stroke="#000" stroke-width="1"/>
<path d="M1155 578L1159 580" stroke="#fdfefd" stroke-width="1.5"/>
<path d="M966.5 552.4L1012.4 552.4Q1045 553 1058 578Q1061.5 586 1061.5 600L1061.5 641Q1058 668 1030 676L1018.7 677.5L966.5 677.5Z" fill="none" stroke="#000" stroke-width="2"/>
<path d="M1045.7 603L1045.7 638Q1043 655 1025 661L1012.4 663L966.5 669.6" fill="none" stroke="#000" stroke-width="2"/>
<ellipse cx="1010.8" cy="569.8" rx="9.5" ry="8" fill="none" stroke="#000" stroke-width="2"/>
<path d="M1003 665Q1010 668 1018 663" fill="none" stroke="#000" stroke-width="1.5"/>
<ellipse cx="837.8" cy="685.6" rx="12.3" ry="11.5" fill="#fdfefd" stroke="#000" stroke-width="2.4"/>
<ellipse cx="836.6" cy="679" rx="9" ry="4.5" fill="none" stroke="#000" stroke-width="2.2"/>
<ellipse cx="837" cy="690.5" rx="7.5" ry="5.5" fill="#111" stroke="#000" stroke-width="2"/>
<path d="M832 689L841 689" stroke="#fdfefd" stroke-width="1.3"/>
<path d="M826 680L826 690M849 680L849 690" fill="none" stroke="#000" stroke-width="1.8"/>
<path d="M888 724L912 737" stroke="#000" stroke-width="15" stroke-linecap="round"/>
<path d="M888 724L912 737" stroke="#fdfefd" stroke-width="11.2" stroke-linecap="round"/>
<ellipse cx="922.5" cy="743.5" rx="16" ry="18.3" transform="rotate(-20 922.5 743.5)" fill="#fdfefd" stroke="#000" stroke-width="2"/>
<ellipse cx="924.9" cy="744" rx="15.5" ry="18" transform="rotate(-20 924.9 744)" fill="#fdfefd" stroke="#000" stroke-width="2"/>
<path d="M928 747.4L935 747.4M931.5 744L931.5 751M929 745L934 750M934 745L929 750" stroke="#000" stroke-width="1.3"/>
<path d="M1009.2 821.6L1009.2 722Q1009.5 714 1018 714Q1026.5 714 1026.7 722L1026.7 821.6" fill="none" stroke="#000" stroke-width="2"/>
<ellipse cx="1018.7" cy="837.8" rx="19" ry="18" fill="#fdfefd" stroke="#000" stroke-width="2.2"/>
<path d="M1012 843.5L1025 843.5M1018.5 837L1018.5 850" stroke="#000" stroke-width="3.2"/>
<path d="M748.5 966.7L748.5 827.5L849.3 827.5L849.3 960.8L782.8 960.8L782.8 978.4L677.3 978.4L677.3 966.7Z" fill="#fdfefd" stroke="#000" stroke-width="2"/>
<path d="M749 830.5L849 830.5" fill="none" stroke="#000" stroke-width="1.5"/>
<path d="M678 975L782 975" fill="none" stroke="#000" stroke-width="1.5"/>
<ellipse cx="798.9" cy="893.5" rx="29.3" ry="23.4" fill="none" stroke="#000" stroke-width="2"/>
<ellipse cx="798.9" cy="848" rx="9.5" ry="7" fill="none" stroke="#000" stroke-width="2"/>
<path d="M790 852Q799 856 808 852" fill="none" stroke="#000" stroke-width="1.5"/>
<ellipse cx="798.9" cy="938.9" rx="9.5" ry="7" fill="none" stroke="#000" stroke-width="2"/>
<path d="M790 943Q799 947 808 943" fill="none" stroke="#000" stroke-width="1.5"/>
<path d="M799 870L799 871" fill="none" stroke="#000" stroke-width="1"/>
<rect x="688.5" y="969.5" width="6" height="3.5" fill="none" stroke="#000" stroke-width="1.5"/>
<path d="M1072 928Q1085 931 1092 945L1118.8 1014L1120 1030L1119 1117Q1118 1126 1110 1128L1097 1131Q1089 1134 1089 1145L1089 1154" fill="none" stroke="#000" stroke-width="5.5" stroke-linejoin="round"/>
<path d="M1071 939Q1082 943 1088 955L1110 1015L1114 1032" fill="none" stroke="#000" stroke-width="5.5" stroke-linejoin="round"/>
<path d="M1070.5 950Q1078 953 1082 959L1098 1018.6Q1101 1033 1108 1038L1118 1042" fill="none" stroke="#000" stroke-width="5.5" stroke-linejoin="round"/>
<path d="M1120 1041.6L1134 1053Q1138 1058 1134 1062L1119 1073.7" fill="none" stroke="#000" stroke-width="5.5" stroke-linejoin="round"/>
<path d="M1072 928Q1085 931 1092 945L1118.8 1014L1120 1030L1119 1117Q1118 1126 1110 1128L1097 1131Q1089 1134 1089 1145L1089 1154" fill="none" stroke="#fdfefd" stroke-width="2.2" stroke-linejoin="round"/>
<path d="M1071 939Q1082 943 1088 955L1110 1015L1114 1032" fill="none" stroke="#fdfefd" stroke-width="2.2" stroke-linejoin="round"/>
<path d="M1070.5 950Q1078 953 1082 959L1098 1018.6Q1101 1033 1108 1038L1118 1042" fill="none" stroke="#fdfefd" stroke-width="2.2" stroke-linejoin="round"/>
<path d="M1120 1041.6L1134 1053Q1138 1058 1134 1062L1119 1073.7" fill="none" stroke="#fdfefd" stroke-width="2.2" stroke-linejoin="round"/>
<ellipse cx="1106.5" cy="1066.5" rx="3" ry="5" fill="none" stroke="#000" stroke-width="1.8"/>
<path d="M1040.7 899.2L1072.8 917.6L1070.5 954.3L1037.2 939.4Z" fill="#fdfefd" stroke="#000" stroke-width="2.2"/>
<path d="M1062 913L1061 950M1066 914L1065 951" fill="none" stroke="#000" stroke-width="1.6"/>
<path d="M1042 900L1070 915" fill="none" stroke="#000" stroke-width="2.5"/>
<path d="M1070.5 1156.4L1095.8 1153L1095.8 1168L1071.7 1171.3Z" fill="#fdfefd" stroke="#000" stroke-width="2"/>
<path d="M1086 1150L1095 1149L1095 1153" fill="none" stroke="#000" stroke-width="2"/><g transform="translate(-935 321)">
<path d="M1410.5 785.5Q1411 782 1413.2 781.9L1426.9 779.2L1432.3 776.4L1468.8 757.3L1474.2 752.8Q1478 748 1483 748L1490.6 748.2L1499.7 751.8L1530.7 767.3Q1536 772 1539.8 778.3L1545.3 785.5L1556.2 789.2Q1561 791 1561.7 794.7L1563.5 807.4L1566.2 809.2L1566.2 814.7L1536.2 831.1L1518 830.2L1507 827.4L1496.1 823.8L1481.5 821.1L1450.5 814.7L1441.4 812L1412.3 794.7L1410.5 791Z" fill="#fdfefd" stroke="#000" stroke-width="2.2"/>
<path d="M1410.5 791L1412 794L1441.4 815L1496.1 827L1508 831L1532.5 834L1566.2 815.6" fill="none" stroke="#000" stroke-width="1.6"/>
<path d="M1436.9 787.4Q1437 768 1460 764Q1475 761 1487 761.9Q1515 763 1532.5 774.6Q1537 780 1536.2 787.4L1536.2 798.3L1556.2 809.2L1556.2 812.9L1532.5 825.6L1514.3 822L1496.1 815.6Q1475 811 1459.7 809.2Q1448 806 1441.4 800.1Q1436 794 1436.9 787.4Z" fill="none" stroke="#000" stroke-width="2.4"/>
<ellipse cx="1422.3" cy="788.3" rx="4.5" ry="3" fill="none" stroke="#000" stroke-width="2"/>
<ellipse cx="1487" cy="752.8" rx="4.5" ry="3" fill="none" stroke="#000" stroke-width="2"/>
<ellipse cx="1549.8" cy="794.7" rx="4.5" ry="3" fill="none" stroke="#000" stroke-width="2"/>
<ellipse cx="1501.6" cy="820.2" rx="4.5" ry="3" fill="none" stroke="#000" stroke-width="2"/>
</g>
<path d="M421.5 1101.5L421.5 1126Q422 1132 435 1132Q448 1132 448.5 1126L448.5 1101.5" fill="none" stroke="#000" stroke-width="2"/>
<ellipse cx="435" cy="1101.5" rx="13.5" ry="6" fill="none" stroke="#000" stroke-width="2"/>
<path d="M695.92 1143.19L717.21 1166.05A19 19 0 0 1 717.21 1191.95L695.92 1214.81A10 10 0 0 1 681.28 1214.81L659.99 1191.95A19 19 0 0 1 659.99 1166.05L681.28 1143.19A10 10 0 0 1 695.92 1143.19Z" fill="#fdfefd" stroke="#000" stroke-width="2.2"/>
<ellipse cx="688.6" cy="1179" rx="16.8" ry="13.8" fill="none" stroke="#000" stroke-width="2.2"/>
<ellipse cx="688.6" cy="1149.5" rx="5.5" ry="4.5" fill="none" stroke="#000" stroke-width="2.2"/>
<ellipse cx="688.6" cy="1208.5" rx="5.5" ry="4.5" fill="none" stroke="#000" stroke-width="2.2"/>
<path d="M843.30 1140.03L859.79 1164.58A16 16 0 0 1 859.79 1182.42L843.30 1206.97A10 10 0 0 1 826.70 1206.97L810.21 1182.42A16 16 0 0 1 810.21 1164.58L826.70 1140.03A10 10 0 0 1 843.30 1140.03Z" fill="#fdfefd" stroke="#000" stroke-width="2.2"/>
<ellipse cx="835" cy="1173.5" rx="20.6" ry="15" fill="none" stroke="#000" stroke-width="2.2"/>
<ellipse cx="835" cy="1146.0" rx="5" ry="4" fill="none" stroke="#000" stroke-width="2.2"/>
<ellipse cx="835" cy="1201.0" rx="5" ry="4" fill="none" stroke="#000" stroke-width="2.2"/>
</svg></body></html>
